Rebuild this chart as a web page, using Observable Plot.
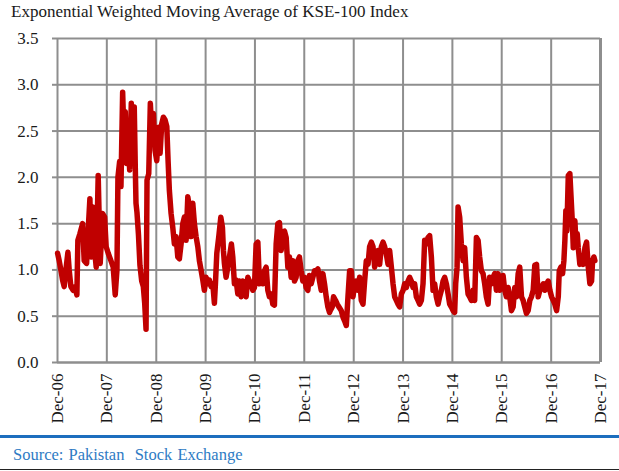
<!DOCTYPE html>
<html>
<head>
<meta charset="utf-8">
<script src="https://cdn.jsdelivr.net/npm/d3@7"></script>
<script src="https://cdn.jsdelivr.net/npm/@observablehq/plot@0.6"></script>
<style>
  html, body { margin: 0; padding: 0; background: #fff; }
  #page { position: relative; width: 619px; height: 471px; overflow: hidden; background: #fff; }
  #title { position: absolute; left: 11px; top: 2px; font-family: 'Liberation Serif', serif; font-size: 17px; line-height: 20px; color: #1a1a1a; white-space: nowrap; }
  #chart { position: absolute; left: 0; top: 28px; }
  #blue { position: absolute; left: 0; top: 435px; width: 619px; height: 3px; background: #1C6EBE; }
  #source { position: absolute; left: 13px; top: 446px; font-family: 'Liberation Serif', serif; font-size: 16.5px; line-height: 18px; color: #2E7BC4; white-space: nowrap; word-spacing: 1px; }
  #bottom { position: absolute; left: 0; top: 469px; width: 619px; height: 1px; background: #222; }
</style>
</head>
<body>
<div id="page">
  <div id="title">Exponential Weighted Moving Average of KSE-100 Index</div>
  <div id="chart"></div>
  <div id="blue"></div>
  <div id="source">Source: Pakistan&nbsp; Stock Exchange</div>
  <div id="bottom"></div>
</div>
<script>
// Decimal-year dates of the readings
const dates = [
2006.917,2006.949,2006.984,2007.018,2007.051,2007.085,2007.126,2007.152,2007.186,2007.233,
2007.274,2007.308,2007.328,2007.369,2007.424,2007.456,2007.505,2007.537,2007.572,2007.598,
2007.633,2007.667,2007.700,2007.740,2007.781,2007.829,2007.870,2007.902,2007.943,2007.998,
2008.044,2008.085,2008.120,2008.140,2008.174,2008.201,2008.235,2008.262,2008.288,2008.316,
2008.343,2008.377,2008.410,2008.444,2008.470,2008.491,2008.505,2008.525,2008.555,2008.585,
2008.620,2008.653,2008.681,2008.708,2008.728,2008.763,2008.795,
2008.829,2008.856,2008.890,2008.925,2008.965,2008.992,2009.026,2009.059,2009.093,2009.128,
2009.154,2009.180,2009.215,2009.249,2009.282,2009.316,2009.351,2009.383,2009.418,2009.452,
2009.485,2009.519,2009.554,2009.586,2009.621,2009.655,2009.688,2009.722,2009.757,2009.789,
2009.823,2009.858,2009.890,2009.925,2009.959,2009.992,2010.026,2010.061,2010.093,2010.114,
2010.142,2010.182,2010.223,2010.256,2010.276,2010.296,2010.330,2010.365,2010.398,2010.438,
2010.466,2010.499,2010.533,2010.568,
2010.600,2010.635,2010.669,2010.702,2010.736,2010.771,2010.803,2010.838,2010.872,2010.905,
2010.939,2010.974,2011.006,2011.041,2011.075,2011.107,2011.142,2011.176,2011.209,2011.243,
2011.278,2011.310,2011.345,2011.379,2011.412,2011.446,2011.481,2011.513,2011.548,2011.582,
2011.615,2011.649,2011.684,2011.716,2011.750,2011.785,2011.817,2011.852,2011.886,2011.919,
2011.953,2011.988,2012.020,2012.055,2012.089,2012.122,2012.156,2012.191,2012.223,2012.258,
2012.292,2012.325,2012.359,2012.393,2012.426,
2012.440,2012.481,2012.507,2012.548,2012.582,2012.617,2012.663,2012.698,2012.730,2012.765,
2012.799,2012.832,2012.866,2012.901,2012.933,2012.967,2013.002,2013.034,2013.069,2013.103,
2013.136,2013.170,2013.205,2013.237,2013.272,2013.306,2013.339,2013.373,2013.408,2013.440,
2013.475,2013.509,2013.542,2013.576,2013.611,2013.643,2013.678,2013.712,2013.745,2013.779,
2013.813,2013.846,2013.880,2013.915,2013.947,2013.982,2014.016,2014.049,2014.083,2014.118,
2014.150,2014.185,2014.219,2014.252,
2014.286,2014.320,2014.353,2014.387,2014.422,2014.454,2014.489,2014.523,2014.556,2014.590,
2014.625,2014.657,2014.692,2014.726,2014.759,2014.793,2014.828,2014.860,2014.894,2014.929,
2014.961,2014.982,2015.010,2015.030,2015.063,2015.097,2015.132,2015.164,2015.199,2015.233,
2015.266,2015.300,2015.335,2015.367,2015.402,2015.436,2015.468,2015.503,2015.537,2015.570,
2015.604,2015.639,2015.671,2015.706,2015.740,2015.773,2015.807,2015.842,2015.874,2015.909,
2015.943,2015.976,2016.010,
2016.045,2016.077,2016.112,2016.146,2016.179,2016.213,2016.248,2016.280,2016.315,2016.349,
2016.381,2016.416,2016.450,2016.483,2016.517,2016.552,2016.584,2016.619,2016.653,2016.686,
2016.720,2016.755,2016.787,2016.822,2016.856,2016.889,2016.923,2016.957,2016.990,2017.025,
2017.059,2017.079,2017.112,2017.146,2017.173,2017.193,2017.213,2017.233,2017.262,2017.294,
2017.315,2017.343,2017.363,2017.396,2017.416,2017.444,2017.464,2017.497,2017.532,2017.566,
2017.599,2017.633,2017.667,2017.700,2017.734,2017.755,2017.781,2017.801
];

// EWMA values
const ewma = [
1.18,1.10,1.00,0.89,0.82,1.00,1.19,1.00,0.82,0.78,
0.82,0.73,1.32,1.39,1.50,1.10,1.07,1.43,1.77,1.14,
1.68,1.21,1.03,2.02,1.07,1.61,1.57,1.25,1.18,1.10,
1.03,0.73,1.00,2.00,2.17,1.90,2.92,2.44,2.71,2.15,
2.54,2.08,2.80,2.29,2.76,2.10,1.72,1.62,1.38,1.05,
0.88,0.82,0.64,0.36,1.97,2.04,2.80,
2.44,2.69,2.29,2.18,2.54,2.26,2.58,2.65,2.62,2.55,
2.18,1.86,1.61,1.46,1.28,1.36,1.14,1.12,1.28,1.50,
1.57,1.32,1.79,1.68,1.36,1.72,1.50,1.36,1.25,1.10,
1.00,0.89,0.78,0.92,0.85,0.89,0.82,0.85,0.64,0.85,
1.18,1.36,1.57,1.46,1.21,1.07,0.92,1.03,1.14,1.28,
1.14,0.85,0.89,0.74,
0.88,0.71,0.88,0.78,0.71,0.92,0.88,0.85,0.78,0.81,
1.28,1.30,0.85,0.92,0.85,0.99,1.03,0.78,0.71,0.74,
0.63,0.62,1.28,1.50,1.51,1.21,1.41,1.42,1.35,1.03,
1.14,0.92,1.10,0.88,0.92,1.10,1.14,0.99,0.88,0.92,
0.81,0.78,0.94,0.85,0.92,0.99,0.99,1.01,0.88,0.78,
0.96,0.85,0.71,0.60,0.54,
0.56,0.60,0.71,0.67,0.63,0.60,0.56,0.49,0.45,0.40,
0.71,0.99,0.99,0.71,0.85,0.88,0.78,0.92,0.67,0.63,
0.88,1.10,1.06,1.25,1.30,1.25,1.03,1.14,1.21,1.06,
1.25,1.30,1.25,1.17,1.06,1.21,1.03,0.85,0.71,0.67,
0.63,0.60,0.74,0.78,0.85,0.81,0.88,0.92,0.88,0.81,
0.85,0.71,0.67,0.63,
0.67,0.85,1.32,1.28,1.35,1.37,1.14,0.78,0.85,0.71,
0.63,0.71,0.78,0.88,0.92,0.85,0.74,0.63,0.60,0.56,
0.54,0.85,1.03,1.68,1.57,1.28,1.10,1.24,0.92,0.74,
0.71,0.67,0.78,0.67,1.35,1.32,1.14,0.99,0.96,0.85,
0.71,0.63,0.92,0.85,0.92,0.96,0.78,0.96,0.78,0.85,
0.94,0.78,0.71,
0.81,0.71,0.56,0.60,0.81,0.71,0.96,1.03,0.71,0.67,
0.60,0.53,0.56,0.67,0.71,0.78,1.05,1.06,0.71,0.78,
0.81,0.85,0.78,0.85,0.88,0.78,0.71,0.67,0.63,0.56,
0.71,0.99,1.03,0.96,1.10,1.32,1.64,1.42,2.02,2.04,
1.82,1.53,1.24,1.53,1.30,1.39,1.24,1.06,1.14,1.06,
1.24,1.30,1.03,0.85,0.88,1.10,1.14,1.10
];

// Axis ticks
const tickYears = [2006,2007,2008,2009,2010,2011,2012,2013,2014,2015,2016,2017];
const tickLabels = ["Dec-06","Dec-07","Dec-08","Dec-09","Dec-10","Dec-11","Dec-12","Dec-13","Dec-14","Dec-15","Dec-16","Dec-17"];
const yTicks = [0, 0.5, 1.0, 1.5, 2.0, 2.5, 3.0, 3.5];

function decToDate(t) {
  const y = Math.floor(t);
  const a = Date.UTC(y, 0, 1), b = Date.UTC(y + 1, 0, 1);
  return new Date(a + (t - y) * (b - a));
}

const data = dates.map((t, i) => ({date: decToDate(t), v: ewma[i]}));
const tickDates = tickYears.map(y => new Date(Date.UTC(y, 11, 1)));
const labelOf = d => tickLabels[tickDates.findIndex(t => +t === +d)];

const gridColor = "#8e8e8e";
const serif = "Liberation Serif";

const chart = Plot.plot({
  width: 619,
  height: 400,
  marginLeft: 57,
  marginRight: 19,
  marginTop: 10,
  marginBottom: 66,
  style: "font-family: 'Liberation Serif', serif; font-size: 17px; color: #1a1a1a; background: transparent; overflow: visible;",
  x: {type: "utc", domain: [tickDates[0], tickDates[tickDates.length - 1]], label: null},
  y: {domain: [0, 3.5], label: null},
  marks: [
    Plot.gridY(yTicks, {stroke: gridColor, strokeOpacity: 1, strokeWidth: 2}),
    Plot.gridX(tickDates, {stroke: gridColor, strokeOpacity: 1, strokeWidth: 2}),
    Plot.axisY(yTicks, {label: null, tickSize: 5, tickPadding: 14, tickFormat: d => d.toFixed(1), stroke: gridColor, strokeWidth: 2, fill: "#1a1a1a", fontSize: 17, fontFamily: serif}),
    Plot.axisX(tickDates, {label: null, tickSize: 0, tickRotate: -90, tickPadding: 11, tickFormat: labelOf, fill: "#1a1a1a", fontSize: 17, fontFamily: serif}),
    Plot.ruleY([0], {stroke: gridColor, strokeWidth: 2}),
    Plot.ruleX([tickDates[tickDates.length - 1]], {stroke: gridColor, strokeWidth: 3}),
    Plot.line(data, {x: "date", y: "v", stroke: "#C00000", strokeWidth: 5.5, strokeLinejoin: "round", strokeLinecap: "round"})
  ]
});
chart.querySelectorAll("text, g").forEach(el => el.style.fontFamily = "'Liberation Serif', serif");
document.getElementById("chart").appendChild(chart);
</script>
</body>
</html>
